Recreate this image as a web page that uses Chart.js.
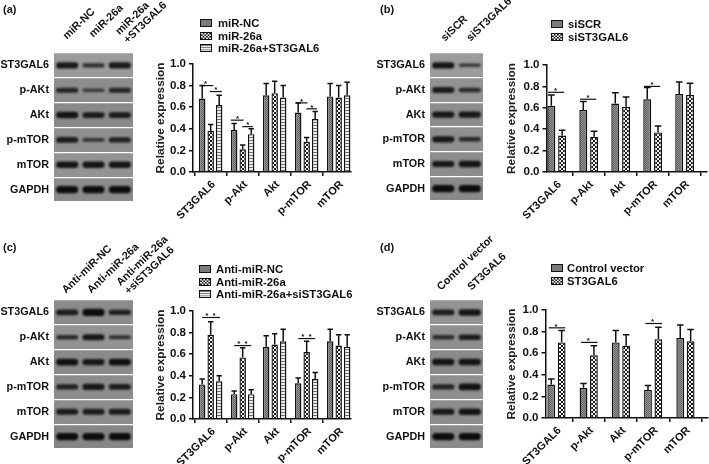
<!DOCTYPE html>
<html><head><meta charset="utf-8">
<script src="https://cdn.jsdelivr.net/npm/chart.js@4/dist/chart.umd.min.js"></script>
<style>
html,body{margin:0;padding:0;background:#fff;width:709px;height:464px;overflow:hidden}
#page{position:relative;width:709px;height:464px;filter:blur(0.35px);font-family:"Liberation Sans",Arial,sans-serif;font-weight:bold;color:#111}
canvas{position:absolute}
.tag{position:absolute;font-size:11px}
.leg{position:absolute;font-size:11.3px;line-height:12.5px;white-space:nowrap;display:flex;align-items:center}
.leg canvas{position:static;margin-right:5px;border:1.4px solid #111;box-sizing:border-box}
</style></head><body><div id="page"></div>
<script>
const groupLabels = ['ST3GAL6','p-Akt','Akt','p-mTOR','mTOR'];
const proteins = ['ST3GAL6','p-AKt','AKt','p-mTOR','mTOR','GAPDH'];

// (a)
const aLanes = ['miR-NC','miR-26a',['miR-26a','+ST3GAL6']];
const aSeries = ['miR-NC','miR-26a','miR-26a+ST3GAL6'];
const aNC = [0.68,0.39,0.71,0.55,0.70];
const aNCTop = [0.80,0.45,0.82,0.64,0.82];
const a26 = [0.38,0.21,0.73,0.28,0.69];
const a26Top = [0.44,0.25,0.84,0.32,0.80];
const aST = [0.62,0.35,0.69,0.49,0.71];
const aSTTop = [0.71,0.40,0.80,0.56,0.83];
const aSig = [[0,-0.3,1.3,0.80,[0.4]],[0,0.9,2.3,0.745,[1.6]],[1,-0.4,1.1,0.48,[0.4]],[1,0.95,2.2,0.42,[1.6]],[3,-0.3,1.1,0.64,[0.4]],[3,0.95,2.2,0.585,[1.6]]];
const aBands = [[0.8,0.45,0.8],[0.6,0.25,0.6],[0.85,0.75,0.75],[0.75,0.35,0.65],[0.85,0.85,0.85],[1,1,1]];
const aShade = ['#9a9a9a','#8d8d8d','#8a8a8a','#8f8f8f','#939393','#8b8b8b'];

// (b)
const bLanes = ['siSCR','siST3GAL6'];
const bSeries = ['siSCR','siST3GAL6'];
const bSCR = [0.62,0.58,0.64,0.68,0.73];
const bSCRTop = [0.72,0.66,0.74,0.79,0.84];
const bSi = [0.34,0.33,0.61,0.37,0.72];
const bSiTop = [0.39,0.38,0.70,0.43,0.83];
const bSig = [[0,-0.3,1.2,0.745,[0.4]],[1,-0.3,1.2,0.68,[0.45]],[3,-0.3,1.2,0.80,[0.45]]];
const bBands = [[0.85,0.3],[0.75,0.5],[0.8,0.8],[0.8,0.5],[0.8,0.85],[1,1]];
const bShade = ['#9b9b9b','#929292','#8d8d8d','#8f8f8f','#8d8d8d','#8a8a8a'];

// (c)
const cLanes = ['Anti-miR-NC','Anti-miR-26a',['Anti-miR-26a','+siST3GAL6']];
const cSeries = ['Anti-miR-NC','Anti-miR-26a','Anti-miR-26a+siST3GAL6'];
const cNC = [0.32,0.23,0.67,0.33,0.72];
const cNCTop = [0.37,0.26,0.77,0.38,0.83];
const c26 = [0.78,0.57,0.69,0.62,0.68];
const c26Top = [0.90,0.66,0.79,0.72,0.78];
const cSi = [0.35,0.23,0.72,0.37,0.67];
const cSiTop = [0.40,0.27,0.83,0.43,0.78];
const cSig = [[0,0,2.1,0.94,[0.55,1.4]],[1,0,2,0.68,[0.55,1.4]],[3,0,2,0.745,[0.55,1.4]]];
const cBands = [[0.7,1,0.65],[0.5,0.8,0.4],[0.9,0.8,0.9],[0.65,0.8,0.7],[0.75,0.75,0.75],[1,1,1]];
const cShade = ['#8b8b8b','#939393','#8a8a8a','#8c8c8c','#8d8d8d','#868686'];

// (d)
const dLanes = ['Control vector','ST3GAL6'];
const dSeries = ['Control vector','ST3GAL6'];
const dCtl = [0.31,0.28,0.70,0.26,0.74];
const dCtlTop = [0.36,0.32,0.81,0.30,0.86];
const dST = [0.70,0.58,0.67,0.73,0.71];
const dSTTop = [0.81,0.67,0.77,0.84,0.82];
const dSig = [[0,-0.25,1.35,0.835,[0.45]],[1,-0.25,1.35,0.70,[0.45]],[3,-0.25,1.35,0.875,[0.45]]];
const dBands = [[0.7,0.85],[0.45,0.7],[0.85,0.85],[0.6,0.9],[0.8,0.85],[1,1]];
const dShade = ['#939393','#8f8f8f','#8a8a8a','#8f8f8f','#8d8d8d','#8b8b8b'];

const FONT = '"Liberation Sans", Arial, sans-serif';
const page = document.getElementById('page');
const INK = '#111';

function tile(size, draw){
  const c = document.createElement('canvas'); c.width = c.height = size;
  draw(c.getContext('2d'));
  return c;
}
const tileFine = tile(2, g=>{g.fillStyle='#929292';g.fillRect(0,0,2,2);g.fillStyle='#646464';g.fillRect(0,0,1,1);g.fillRect(1,1,1,1);});
const tileCheck = tile(4, g=>{g.fillStyle='#1a1a1a';g.fillRect(0,0,4,4);g.fillStyle='#f4f4f4';g.fillRect(0,0,2,2);g.fillRect(2,2,2,2);});
const tileStripe = tile(3, g=>{g.fillStyle='#eeeeee';g.fillRect(0,0,3,3);g.fillStyle='#6a6a6a';g.fillRect(0,0,3,1);});
const tiles = [tileFine,tileCheck,tileStripe];
const pat = i => document.createElement('canvas').getContext('2d').createPattern(tiles[i],'repeat');

function mk(left,top,w,h){
  const c = document.createElement('canvas');
  c.width=w;c.height=h;c.style.left=left+'px';c.style.top=top+'px';c.style.width=w+'px';c.style.height=h+'px';
  page.appendChild(c);return c;
}

const barDecor = {
  id:'barDecor',
  afterDatasetsDraw(chart,args,o){
    const ctx = chart.ctx, y = chart.scales.y;
    ctx.save();
    ctx.strokeStyle = INK; ctx.lineWidth = 1.5; ctx.lineCap='butt';
    chart.data.datasets.forEach((ds,di)=>{
      const meta = chart.getDatasetMeta(di);
      meta.data.forEach((bar,i)=>{
        const t = y.getPixelForValue(ds.errorTop[i]);
        const half = bar.width*0.42;
        ctx.beginPath();
        ctx.moveTo(bar.x,bar.y);ctx.lineTo(bar.x,t);
        ctx.moveTo(bar.x-half,t);ctx.lineTo(bar.x+half,t);
        ctx.stroke();
      });
    });
    ctx.lineWidth = 1.2;
    ctx.fillStyle = INK;
    ctx.font = 'bold 8px '+FONT;
    ctx.textAlign='center';ctx.textBaseline='middle';
    o.sig.forEach(([g,s0,s1,val,stars])=>{
      const m0 = chart.getDatasetMeta(0).data[g], m1 = chart.getDatasetMeta(1).data[g];
      const pitch = m1.x-m0.x, py = y.getPixelForValue(val);
      ctx.beginPath();ctx.moveTo(m0.x+s0*pitch,py);ctx.lineTo(m0.x+s1*pitch,py);ctx.stroke();
      stars.forEach(s=>ctx.fillText('*',m0.x+s*pitch,py-1.5));
    });
    ctx.restore();
  }
};

function barPanel(p){
  const c = mk(p.cl,p.ct,p.cw,p.ch);
  const ds = p.series.map((label,i)=>({
    label,
    data:p.values[i].map((y,x)=>({x,y})),
    errorTop:p.tops[i],
    backgroundColor:pat(i),
    borderColor:INK,borderWidth:1.4,
    categoryPercentage:p.cat,barPercentage:p.bar
  }));
  new Chart(c,{type:'bar',
    data:{labels:groupLabels,datasets:ds},
    plugins:[barDecor],
    options:{responsive:false,animation:false,devicePixelRatio:1,
      layout:{padding:{top:p.top-p.ct,left:0,right:p.cl+p.cw-p.right,bottom:0}},
      plugins:{legend:{display:false},tooltip:{enabled:false},barDecor:{sig:p.sig}},
      scales:{
        x:{type:'linear',offset:false,min:p.xmin,max:p.xmax,
          afterBuildTicks:s=>{s.ticks=groupLabels.map((_,i)=>({value:i}));},
          afterFit:s=>{s.height=p.ct+p.ch-p.bottom;},
          grid:{display:true,drawOnChartArea:false,drawTicks:true,tickLength:4,color:INK,lineWidth:1.5},
          border:{color:INK,width:1.5},
          ticks:{autoSkip:false,minRotation:45,maxRotation:45,padding:2,labelOffset:3,color:INK,font:{family:FONT,size:11,weight:'bold'},
            callback:(v)=>groupLabels[v]}
        },
        y:{min:0,max:1,
          afterFit:s=>{s.width=p.left-p.cl;},
          grid:{display:true,drawOnChartArea:false,drawTicks:true,tickLength:4,color:INK,lineWidth:1.5},
          border:{color:INK,width:1.5},
          ticks:{stepSize:0.2,padding:3,color:INK,font:{family:FONT,size:11.5,weight:'bold'},callback:v=>v.toFixed(1)},
          title:{display:true,text:'Relative expression',color:'#222',padding:{top:0,bottom:0},font:{family:FONT,size:11.8,weight:'bold'}}
        }
      }
    }});
}

const blotDecor = {
  id:'blotDecor',
  beforeDraw(chart,args,o){
    const {ctx,chartArea:a,scales:{x,y}} = chart;
    o.shade.forEach((col,r)=>{
      ctx.fillStyle = col;
      const t=y.getPixelForValue(r),b=y.getPixelForValue(r+1);
      ctx.fillRect(a.left,t,a.right-a.left,b-t);
    });
    x.getLabelItems().forEach((it,i)=>{
      if(it._n) return; it._n=true;
      const tr=it.options.translation, n=o.nudge[i];
      it.options.translation=[tr[0]+n[0],tr[1]+n[1]];
    });
  },
  beforeDatasetsDraw(chart){chart.ctx.save();chart.ctx.filter='blur(1.1px)';},
  afterDatasetsDraw(chart){chart.ctx.restore();}
};

function blotPanel(p){
  const c = mk(p.cl,p.ct,p.cw,p.ch);
  const ds = proteins.map((label,r)=>({
    label,
    data:p.bands[r].map(s=>{const h=0.04+0.105*s;return [r+0.5-h,r+0.5+h];}),
    backgroundColor:p.bands[r].map(s=>'rgba(12,12,12,'+(0.55+0.45*s)+')'),
    borderRadius:20,borderSkipped:false,grouped:false,
    categoryPercentage:1,barPercentage:0.84
  }));
  new Chart(c,{type:'bar',
    data:{labels:p.lanes,datasets:ds},
    plugins:[blotDecor],
    options:{responsive:false,animation:false,devicePixelRatio:1,
      layout:{padding:{top:0,left:0,right:p.cl+p.cw-p.right,bottom:p.ct+p.ch-p.bottom}},
      plugins:{legend:{display:false},tooltip:{enabled:false},blotDecor:{shade:p.shade,nudge:p.nudge}},
      scales:{
        x:{position:'top',
          afterFit:s=>{s.height=p.top-p.ct;},
          grid:{display:false},border:{display:false},
          ticks:{autoSkip:false,minRotation:44,maxRotation:44,padding:2,color:INK,font:{family:FONT,size:10.8,weight:'bold',lineHeight:1.1}}
        },
        y:{reverse:true,min:0,max:6,
          afterBuildTicks:s=>{const t=[];for(let i=0;i<=12;i++)t.push({value:i/2});s.ticks=t;},
          afterFit:s=>{s.width=p.left-p.cl;},
          grid:{drawTicks:false,lineWidth:1.3,color:k=>Number.isInteger(k.tick.value)?'#ffffff':'rgba(0,0,0,0)'},
          border:{display:false},
          ticks:{autoSkip:false,padding:5,color:INK,font:{family:FONT,size:10.8,weight:'bold'},
            callback:v=>Number.isInteger(v)?'':proteins[Math.floor(v)]}
        }
      }
    }});
}

function legend(items,x,ys,swW,textX){
  items.forEach((t,i)=>{
    const d=document.createElement('div');d.className='leg';
    d.style.left=x+'px';d.style.top=(ys[i]-6)+'px';
    const s=document.createElement('canvas');s.width=swW;s.height=8;
    s.style.width=swW+'px';s.style.height='8px';s.style.marginRight=(textX-x-swW)+'px';
    const g=s.getContext('2d');g.fillStyle=g.createPattern(tiles[i],'repeat');g.fillRect(0,0,swW,8);
    d.appendChild(s);
    const sp=document.createElement('span');sp.textContent=t;d.appendChild(sp);
    page.appendChild(d);
  });
}
function tag(t,x,y){const d=document.createElement('div');d.className='tag';d.textContent=t;d.style.left=x+'px';d.style.top=y+'px';page.appendChild(d);}

tag('(a)',3,3);tag('(b)',380,3);tag('(c)',3,241);tag('(d)',380,241);

blotPanel({lanes:aLanes,bands:aBands,shade:aShade,nudge:[[6,-1],[6,-3],[14,3]],cl:0,ct:0,cw:185,ch:218,left:54,right:133,top:53,bottom:202});
blotPanel({lanes:bLanes,bands:bBands,shade:bShade,nudge:[[8,1],[7,1]],cl:370,ct:0,cw:165,ch:217,left:430,right:483,top:53,bottom:201});
blotPanel({lanes:cLanes,bands:cBands,shade:cShade,nudge:[[5,6],[4,6],[15,7]],cl:0,ct:232,cw:195,ch:233,left:54,right:133,top:300,bottom:449});
blotPanel({lanes:dLanes,bands:dBands,shade:dShade,nudge:[[4,3],[8,3]],cl:370,ct:232,cw:165,ch:233,left:430,right:483,top:300,bottom:449});

barPanel({series:aSeries,values:[aNC,a26,aST],tops:[aNCTop,a26Top,aSTTop],sig:aSig,cat:0.797,bar:0.76,
  cl:154,ct:50,cw:201,ch:180,left:193,right:351,top:64,bottom:172,xmin:-0.553,xmax:4.385});
barPanel({series:bSeries,values:[bSCR,bSi],tops:[bSCRTop,bSiTop],sig:bSig,cat:0.675,bar:0.74,
  cl:505,ct:50,cw:204,ch:180,left:546.5,right:707,top:65,bottom:172,xmin:-0.32,xmax:4.70});
barPanel({series:cSeries,values:[cNC,c26,cSi],tops:[cNCTop,c26Top,cSiTop],sig:cSig,cat:0.797,bar:0.76,
  cl:154,ct:295,cw:201,ch:169,left:193,right:351,top:311,bottom:419,xmin:-0.553,xmax:4.385});
barPanel({series:dSeries,values:[dCtl,dST],tops:[dCtlTop,dSTTop],sig:dSig,cat:0.645,bar:0.75,
  cl:505,ct:295,cw:204,ch:169,left:545.5,right:708,top:310,bottom:418,xmin:-0.34,xmax:4.70});

legend(aSeries,200,[23,36,48],12,218);
legend(bSeries,551,[24,37],12,568);
legend(cSeries,199,[269,282,294],12,216);
legend(dSeries,551,[268,281],12,567);
</script></body></html>
